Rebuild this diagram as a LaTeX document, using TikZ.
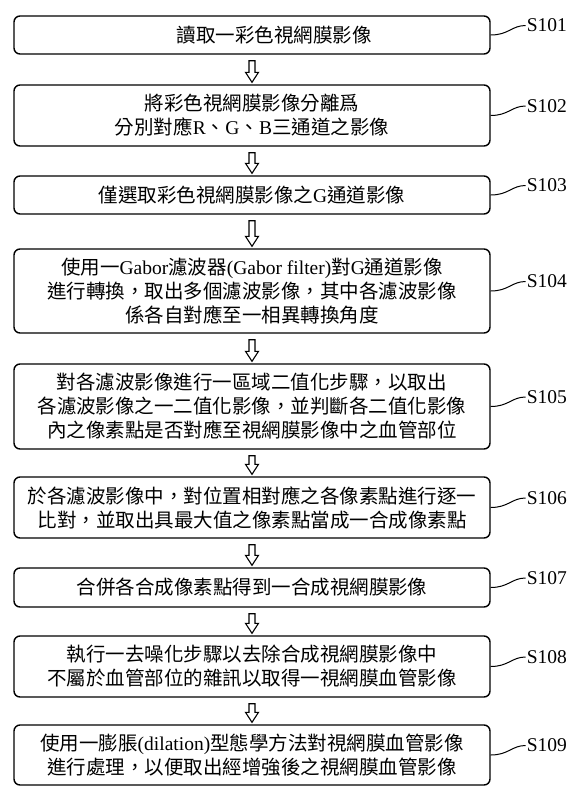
\documentclass[tikz,border=0pt]{standalone}
\usepackage{fontspec}
\setmainfont{Liberation Serif}
\newfontfamily\cjk{Noto Sans CJK TC}
\usepackage{tikz}
\usetikzlibrary{calc}
\usetikzlibrary{positioning}
\newcommand{\lat}[1]{{\rmfamily #1}}
\newcommand{\hollowarrow}[2]{%
  \draw[hollow] let \p1=(#1.south), \p2=(#2.north) in
    (\x1-3pt,\y1-6pt) -- (\x1-3pt,\y2+12pt) -- (\x1-6.5pt,\y2+12pt) -- (\x1,\y2+2pt)
    -- (\x1+6.5pt,\y2+12pt) -- (\x1+3pt,\y2+12pt) -- (\x1+3pt,\y1-6pt) -- cycle;}

\begin{document}
\begin{tikzpicture}[x=1pt, y=-1pt,
    stepbox/.style={draw, line width=1.4pt, rounded corners=6pt, minimum width=476pt,
      inner sep=2pt, align=center, font={\cjk\fontsize{19.5}{24}\selectfont}},
    steplabel/.style={anchor=west, inner sep=1pt, font={\fontsize{19.5}{24}\selectfont}},
    leader/.style={line width=1pt},
    hollow/.style={line width=1.1pt, fill=white, line join=miter}]
            \useasboundingbox (0,0) rectangle (579,795);
            \node[stepbox, minimum height=38pt] (b1) at (252,35) {\hspace*{44pt}讀取一彩色視網膜影像};
            \node[stepbox, minimum height=61pt] (b2) at (252,115.5) {將彩色視網膜影像分離爲\\分別對應\lat{R}、\lat{G}、\lat{B}三通道之影像};
            \node[stepbox, minimum height=38pt] (b3) at (252,195) {僅選取彩色視網膜影像之\lat{G}通道影像};
            \node[stepbox, minimum height=84pt] (b4) at (252,291) {使用一\lat{Gabor}濾波器\lat{(Gabor filter)}對\lat{G}通道影像\\進行轉換，取出多個濾波影像，其中各濾波影像\\係各自對應至一相異轉換角度};
            \node[stepbox, minimum height=85pt] (b5) at (252,406.5) {對各濾波影像進行一區域二值化步驟，以取出\\各濾波影像之一二值化影像，並判斷各二值化影像\\內之像素點是否對應至視網膜影像中之血管部位};
            \node[stepbox, minimum height=61pt] (b6) at (252,507.5) {於各濾波影像中，對位置相對應之各像素點進行逐一\\比對，並取出具最大值之像素點當成一合成像素點};
            \node[stepbox, minimum height=39pt] (b7) at (252,587.5) {合併各合成像素點得到一合成視網膜影像};
            \node[stepbox, minimum height=61pt] (b8) at (252,666.5) {執行一去噪化步驟以去除合成視網膜影像中\\不屬於血管部位的雜訊以取得一視網膜血管影像};
            \node[stepbox, minimum height=60pt] (b9) at (252,755) {使用一膨脹\lat{(dilation)}型態學方法對視網膜血管影像\\進行處理，以便取出經增強後之視網膜血管影像};
            % step numbers
            \node[steplabel] (s1) at ([xshift=35pt,yshift=9.5pt]b1.east) {S101};
            \node[steplabel] (s2) at ([xshift=35pt,yshift=9.5pt]b2.east) {S102};
            \node[steplabel] (s3) at ([xshift=35pt,yshift=9.5pt]b3.east) {S103};
            \node[steplabel] (s4) at ([xshift=35pt,yshift=9.5pt]b4.east) {S104};
            \node[steplabel] (s5) at ([xshift=35pt,yshift=9.5pt]b5.east) {S105};
            \node[steplabel] (s6) at ([xshift=35pt,yshift=9.5pt]b6.east) {S106};
            \node[steplabel] (s7) at ([xshift=35pt,yshift=9.5pt]b7.east) {S107};
            \node[steplabel] (s8) at ([xshift=35pt,yshift=9.5pt]b8.east) {S108};
            \node[steplabel] (s9) at ([xshift=35pt,yshift=9.5pt]b9.east) {S109};
            \draw[leader] (b1.east) .. controls +(18,0) and +(-14,0) .. (s1.west);
            \draw[leader] (b2.east) .. controls +(18,0) and +(-14,0) .. (s2.west);
            \draw[leader] (b3.east) .. controls +(18,0) and +(-14,0) .. (s3.west);
            \draw[leader] (b4.east) .. controls +(18,0) and +(-14,0) .. (s4.west);
            \draw[leader] (b5.east) .. controls +(18,0) and +(-14,0) .. (s5.west);
            \draw[leader] (b6.east) .. controls +(18,0) and +(-14,0) .. (s6.west);
            \draw[leader] (b7.east) .. controls +(18,0) and +(-14,0) .. (s7.west);
            \draw[leader] (b8.east) .. controls +(18,0) and +(-14,0) .. (s8.west);
            \draw[leader] (b9.east) .. controls +(18,0) and +(-14,0) .. (s9.west);
            % hollow arrows between steps
            \hollowarrow{b1}{b2}
            \hollowarrow{b2}{b3}
            \hollowarrow{b3}{b4}
            \hollowarrow{b4}{b5}
            \hollowarrow{b5}{b6}
            \hollowarrow{b6}{b7}
            \hollowarrow{b7}{b8}
            \hollowarrow{b8}{b9}
        \end{tikzpicture}
\end{document}
